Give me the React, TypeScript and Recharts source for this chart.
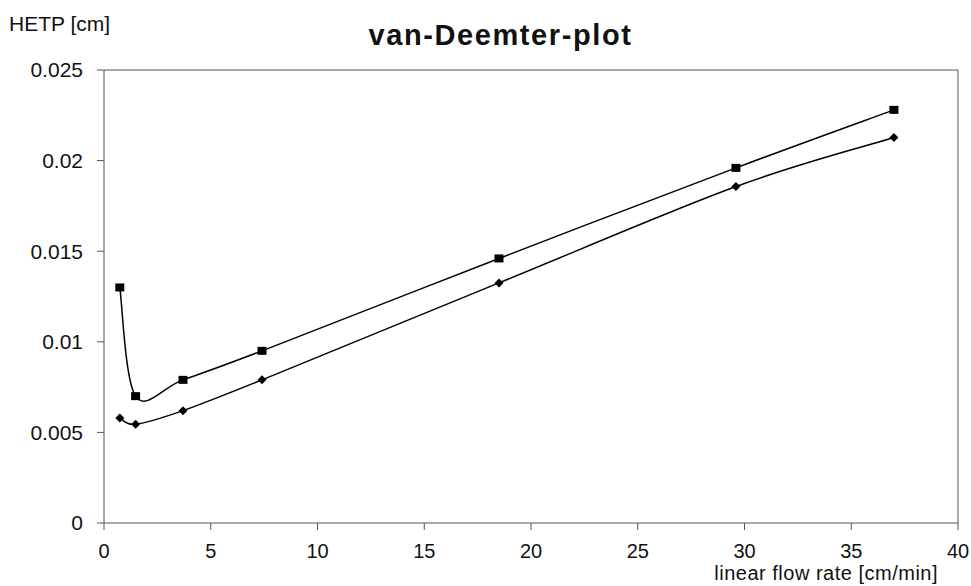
import React from "react"
import { LineChart, Line, XAxis, YAxis, ReferenceLine } from "recharts"

// flow rate [cm/min]
const flowRates = [0.74, 1.48, 3.7, 7.4, 18.5, 29.6, 37]
// HETP [cm], upper series (square markers)
const hetpSquare = [0.013, 0.007, 0.0079, 0.0095, 0.0146, 0.0196, 0.0228]
// HETP [cm], lower series (diamond markers)
const hetpDiamond = [0.0058, 0.00545, 0.0062, 0.0079, 0.01325, 0.01857, 0.02127]

const xTicks = [0, 5, 10, 15, 20, 25, 30, 35, 40]
const yTicks = [0, 0.005, 0.01, 0.015, 0.02, 0.025]

const data = flowRates.map((x, i) => ({ x, square: hetpSquare[i], diamond: hetpDiamond[i] }))

// smooth line through the points, like a spreadsheet's "smoothed line"
function smoothCurve(context: any) {
  let pts: number[][] = []
  return {
    areaStart() {},
    areaEnd() {},
    lineStart() {
      pts = []
    },
    point(x: number, y: number) {
      pts.push([+x, +y])
    },
    lineEnd() {
      if (!pts.length) return
      context.moveTo(pts[0][0], pts[0][1])
      for (let i = 0; i < pts.length - 1; i++) {
        const p0 = pts[i - 1] || pts[i]
        const p1 = pts[i]
        const p2 = pts[i + 1]
        const p3 = pts[i + 2] || p2
        context.bezierCurveTo(
          p1[0] + (p2[0] - p0[0]) / 6,
          p1[1] + (p2[1] - p0[1]) / 6,
          p2[0] - (p3[0] - p1[0]) / 6,
          p2[1] - (p3[1] - p1[1]) / 6,
          p2[0],
          p2[1]
        )
      }
    },
  }
}

const squareDot = (p: any) => (
  <rect key={`s${p.index}`} x={p.cx - 4.5} y={p.cy - 4} width={9} height={8} fill="#000" />
)

const diamondDot = (p: any) => (
  <path
    key={`d${p.index}`}
    d={`M${p.cx},${p.cy - 4.5} L${p.cx + 4.5},${p.cy} L${p.cx},${p.cy + 4.5} L${p.cx - 4.5},${p.cy} Z`}
    fill="#000"
  />
)

const font = '"Liberation Sans", Arial, sans-serif'
const axisColor = "#555"

export default function App() {
  return (
    <div style={{ position: "absolute", left: 0, top: 0, width: 971, height: 586, background: "#fff", fontFamily: font }}>
      <div style={{ position: "absolute", left: 9, top: 13, fontSize: 21, lineHeight: 1, color: "#111" }}>HETP [cm]</div>
      <div
        style={{
          position: "absolute",
          left: 300,
          width: 401,
          top: 21,
          textAlign: "center",
          fontSize: 29,
          fontWeight: "bold",
          letterSpacing: 1.6,
          lineHeight: 1,
          color: "#111",
        }}
      >
        van-Deemter-plot
      </div>
      <div
        style={{
          position: "absolute",
          right: 971 - 938,
          top: 563,
          fontSize: 20,
          letterSpacing: 0.5,
          lineHeight: 1,
          color: "#111",
        }}
      >
        linear flow rate [cm/min]
      </div>
      <LineChart width={971} height={586} data={data} margin={{ top: 70, right: 13, left: 0, bottom: 0 }}>
        <XAxis
          type="number"
          dataKey="x"
          domain={[0, 40]}
          ticks={xTicks}
          height={63}
          tickSize={7}
          tickMargin={14}
          stroke={axisColor}
          tick={{ fill: "#111", fontSize: 20, fontFamily: font }}
        />
        <YAxis
          type="number"
          domain={[0, 0.025]}
          ticks={yTicks}
          width={104}
          tickSize={7}
          tickMargin={14}
          stroke={axisColor}
          tick={{ fill: "#111", fontSize: 21, fontFamily: font }}
        />
        <ReferenceLine y={0.025} stroke={axisColor} />
        <ReferenceLine x={40} stroke={axisColor} />
        <Line
          dataKey="square"
          type={smoothCurve as any}
          stroke="#000"
          strokeWidth={1.5}
          dot={squareDot}
          activeDot={false}
          isAnimationActive={false}
        />
        <Line
          dataKey="diamond"
          type={smoothCurve as any}
          stroke="#000"
          strokeWidth={1.5}
          dot={diamondDot}
          activeDot={false}
          isAnimationActive={false}
        />
      </LineChart>
    </div>
  )
}
